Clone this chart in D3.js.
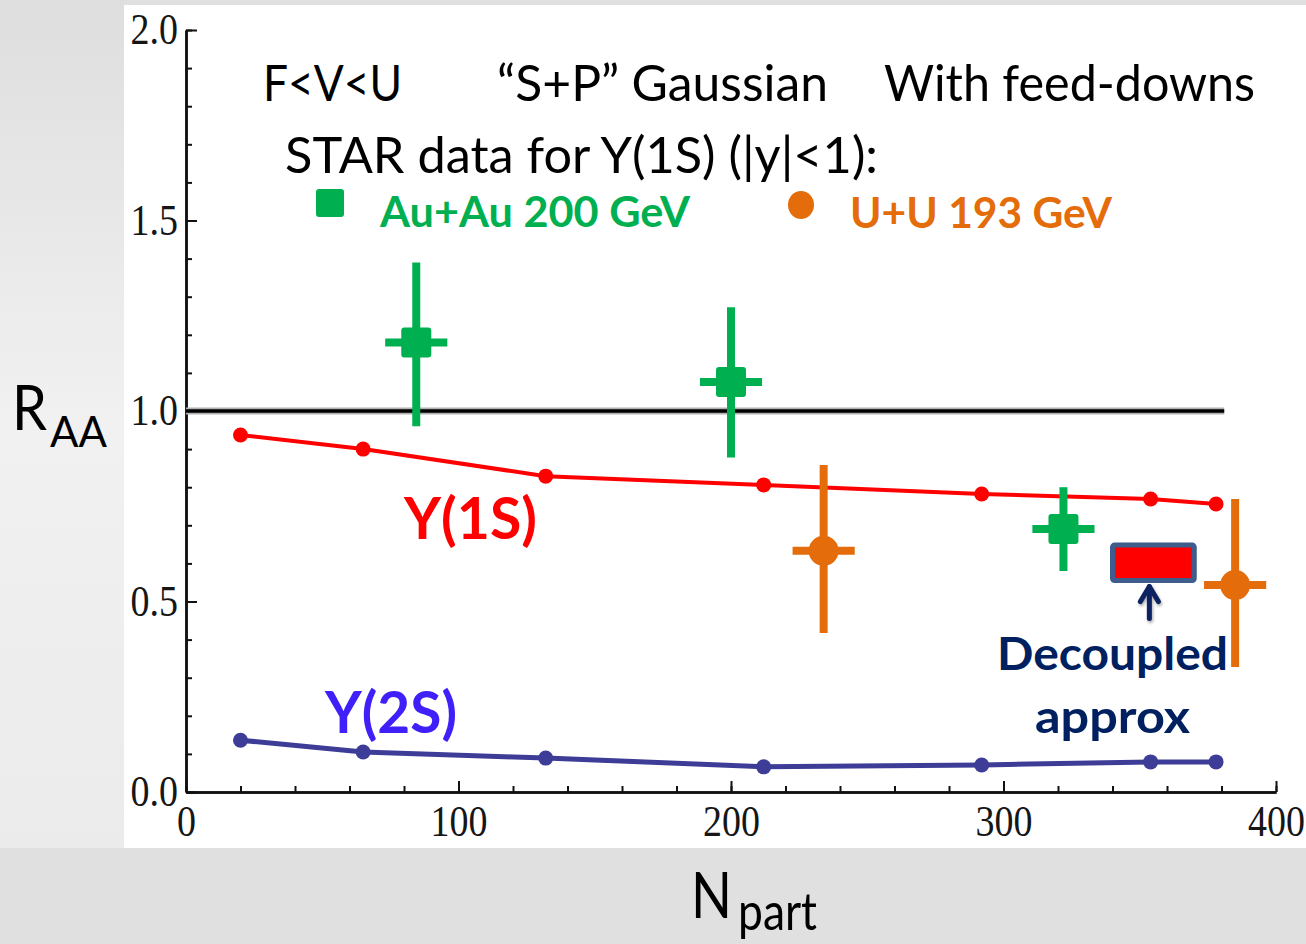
<!DOCTYPE html>
<html>
<head>
<meta charset="utf-8">
<script src="https://cdn.jsdelivr.net/npm/d3@7"></script>
<style>
  html, body { margin: 0; padding: 0; background: #e0e0e0; }
  svg { display: block; }
</style>
</head>
<body>
<svg id="chart" width="1306" height="944"></svg>
<script>
// Model curves: R_AA vs N_part
const npart = [20, 65, 132, 212, 292, 354, 378];
const raa1S = [0.937, 0.900, 0.829, 0.806, 0.782, 0.769, 0.756];
const raa2S = [0.136, 0.105, 0.089, 0.066, 0.071, 0.079, 0.079];

// STAR Au+Au 200 GeV points
const auauNpart = [84.5, 200, 322];
const auauRaa = [1.18, 1.076, 0.69];
const auauHi = [1.39, 1.272, 0.80];
const auauLo = [0.96, 0.878, 0.58];

// STAR U+U 193 GeV points
const uuNpart = [234, 385];
const uuRaa = [0.633, 0.543];
const uuHi = [0.858, 0.769];
const uuLo = [0.417, 0.328];

const npartHalfWidth = 11.4;

// Decoupled approximation band
const decoupledNpart = [340, 370];
const decoupledRaa = [0.555, 0.648];

const xTicks = [0, 100, 200, 300, 400];
const yTicks = [0.0, 0.5, 1.0, 1.5, 2.0];
const unityLine = [0, 381];

const svg = d3.select("#chart");

// slide background
const defs = svg.append("defs");
const grad = defs.append("linearGradient").attr("id", "sideGrad")
  .attr("x1", 0).attr("y1", 0).attr("x2", 0).attr("y2", 1);
grad.append("stop").attr("offset", "0%").attr("stop-color", "#dedede");
grad.append("stop").attr("offset", "50%").attr("stop-color", "#f1f1f1");
grad.append("stop").attr("offset", "100%").attr("stop-color", "#ebebeb");
const soft = defs.append("filter").attr("id", "soft");
soft.append("feGaussianBlur").attr("stdDeviation", 0.6);
const shadow = defs.append("filter").attr("id", "shadow")
  .attr("x", "-50%").attr("y", "-50%").attr("width", "200%").attr("height", "200%");
shadow.append("feDropShadow").attr("dx", 1).attr("dy", 2).attr("stdDeviation", 1.5)
  .attr("flood-color", "#000").attr("flood-opacity", 0.35);

svg.append("rect").attr("width", 1306).attr("height", 944).attr("fill", "#e0e0e0");
svg.append("rect").attr("x", 0).attr("y", 0).attr("width", 124).attr("height", 848)
  .attr("fill", "url(#sideGrad)");
svg.append("rect").attr("x", 124).attr("y", 5).attr("width", 1182).attr("height", 843)
  .attr("fill", "#ffffff");

const x = d3.scaleLinear().domain([0, 400]).range([186, 1276]);
const y = d3.scaleLinear().domain([0, 2]).range([792, 30]);

// axes
const tickFont = "'Liberation Serif', 'DejaVu Serif', serif";
const yMinor = svg.append("g").attr("transform", `translate(${x(0)},0)`)
  .call(d3.axisLeft(y).tickValues(d3.range(0, 21).map(i => i / 10))
    .tickSizeInner(-6).tickSizeOuter(0).tickFormat(""));
const yMajor = svg.append("g").attr("transform", `translate(${x(0)},0)`)
  .call(d3.axisLeft(y).tickValues(yTicks).tickSizeInner(-11).tickSizeOuter(0)
    .tickPadding(8).tickFormat(d3.format(".1f")));
const xMinor = svg.append("g").attr("transform", `translate(0,${y(0)})`)
  .call(d3.axisBottom(x).tickValues(d3.range(0, 21).map(i => i * 20))
    .tickSizeInner(-6).tickSizeOuter(0).tickFormat(""));
const xMajor = svg.append("g").attr("transform", `translate(0,${y(0)})`)
  .call(d3.axisBottom(x).tickValues(xTicks).tickSizeInner(-11).tickSizeOuter(0)
    .tickPadding(11).tickFormat(d3.format("d")));

[yMinor, yMajor, xMinor, xMajor].forEach(g => {
  g.selectAll("path").attr("stroke", "#111").attr("stroke-width", 2.5);
  g.selectAll("line").attr("stroke", "#111").attr("stroke-width", 2);
  g.selectAll("text").attr("font-family", tickFont).attr("font-size", 38)
    .attr("fill", "#161616").attr("transform", "scale(1,1.15)");
});

// unity reference
svg.append("line")
  .attr("x1", x(unityLine[0])).attr("x2", x(unityLine[1]))
  .attr("y1", y(1)).attr("y2", y(1))
  .attr("stroke", "#b0b0b0").attr("stroke-width", 7);
svg.append("line")
  .attr("x1", x(unityLine[0])).attr("x2", x(unityLine[1]))
  .attr("y1", y(1)).attr("y2", y(1))
  .attr("stroke", "#000").attr("stroke-width", 3.5);

// model curves
function curve(vals, color, width, r, filter) {
  const pts = npart.map((n, i) => [n, vals[i]]);
  const g = svg.append("g");
  if (filter) g.attr("filter", filter);
  g.append("path").datum(pts)
    .attr("d", d3.line().x(d => x(d[0])).y(d => y(d[1])))
    .attr("fill", "none").attr("stroke", color).attr("stroke-width", width)
    .attr("stroke-linejoin", "round");
  g.selectAll("circle").data(pts).join("circle")
    .attr("cx", d => x(d[0])).attr("cy", d => y(d[1])).attr("r", r)
    .attr("fill", color);
}
curve(raa1S, "#ff0000", 4, 7.5, null);
curve(raa2S, "#3c3c98", 5, 7.5, "url(#soft)");

// data points with error bars
function points(ns, vals, hi, lo, color, shape) {
  const g = svg.append("g");
  ns.forEach((n, i) => {
    g.append("line").attr("x1", x(n)).attr("x2", x(n))
      .attr("y1", y(hi[i])).attr("y2", y(lo[i]))
      .attr("stroke", color).attr("stroke-width", 8);
    g.append("line").attr("x1", x(n - npartHalfWidth)).attr("x2", x(n + npartHalfWidth))
      .attr("y1", y(vals[i])).attr("y2", y(vals[i]))
      .attr("stroke", color).attr("stroke-width", 8);
    if (shape === "square") {
      g.append("rect").attr("x", x(n) - 15).attr("y", y(vals[i]) - 15)
        .attr("width", 30).attr("height", 30).attr("rx", 3).attr("fill", color);
    } else {
      g.append("circle").attr("cx", x(n)).attr("cy", y(vals[i])).attr("r", 15)
        .attr("fill", color);
    }
  });
}
const green = "#00b050", orange = "#e46c0a";
points(auauNpart, auauRaa, auauHi, auauLo, green, "square");
points(uuNpart, uuRaa, uuHi, uuLo, orange, "circle");

// decoupled approximation box and arrow
const bx0 = x(decoupledNpart[0]), bx1 = x(decoupledNpart[1]);
const by0 = y(decoupledRaa[1]), by1 = y(decoupledRaa[0]);
svg.append("rect").attr("x", bx0).attr("y", by0)
  .attr("width", bx1 - bx0).attr("height", by1 - by0).attr("rx", 2)
  .attr("fill", "#ff0000").attr("stroke", "#3e5d8c").attr("stroke-width", 5);
const ax = (bx0 + bx1) / 2 - 4;
const arrow = svg.append("g").attr("filter", "url(#shadow)")
  .attr("stroke", "#0f2460").attr("stroke-width", 5).attr("fill", "none")
  .attr("stroke-linecap", "round").attr("stroke-linejoin", "round");
arrow.append("line").attr("x1", ax).attr("x2", ax).attr("y1", by1 + 38).attr("y2", by1 + 6);
arrow.append("path").attr("d", `M${ax - 9},${by1 + 21}L${ax},${by1 + 6}L${ax + 9},${by1 + 21}`);

// text
const sans = "Lato, 'Open Sans', 'Liberation Sans', sans-serif";
function label(px, py, str, size, weight, fill, len) {
  const t = svg.append("text").attr("x", px).attr("y", py).text(str)
    .attr("font-family", sans).attr("font-size", size).attr("font-weight", weight)
    .attr("fill", fill);
  if (len) t.attr("textLength", len).attr("lengthAdjust", "spacingAndGlyphs");
  return t;
}
label(263, 101, "F<V<U", 50, 400, "#000", 139);
label(497, 101, "\u201CS+P\u201D Gaussian", 50, 400, "#000", 331);
label(884, 101, "With feed-downs", 50, 400, "#000", 371);
label(285, 173, "STAR data for Y(1S) (|y|<1):", 50, 400, "#000", 593);

// legend
svg.append("rect").attr("x", 316).attr("y", 189).attr("width", 28).attr("height", 28)
  .attr("rx", 3).attr("fill", green);
svg.append("ellipse").attr("cx", 801).attr("cy", 205).attr("rx", 13).attr("ry", 14)
  .attr("fill", orange);
label(380, 227, "Au+Au 200 GeV", 42, 700, green, 310);
label(850, 228, "U+U 193 GeV", 42, 700, orange, 262);

// curve labels
label(404, 539, "Y(1S)", 57, 700, "#ff0000", 133);
label(325, 733, "Y(2S)", 57, 700, "#4020f8", 132);
label(997, 670, "Decoupled", 46, 700, "#002060", 231);
label(1035, 733, "approx", 46, 700, "#002060", 155);

// axis titles
label(12, 430, "R", 62, 400, "#000", 35);
label(50, 447, "AA", 42, 400, "#000", 57);
label(691, 918, "N", 64, 400, "#000", 41);
label(738, 930, "part", 52, 400, "#000", 79);
</script>
</body>
</html>
